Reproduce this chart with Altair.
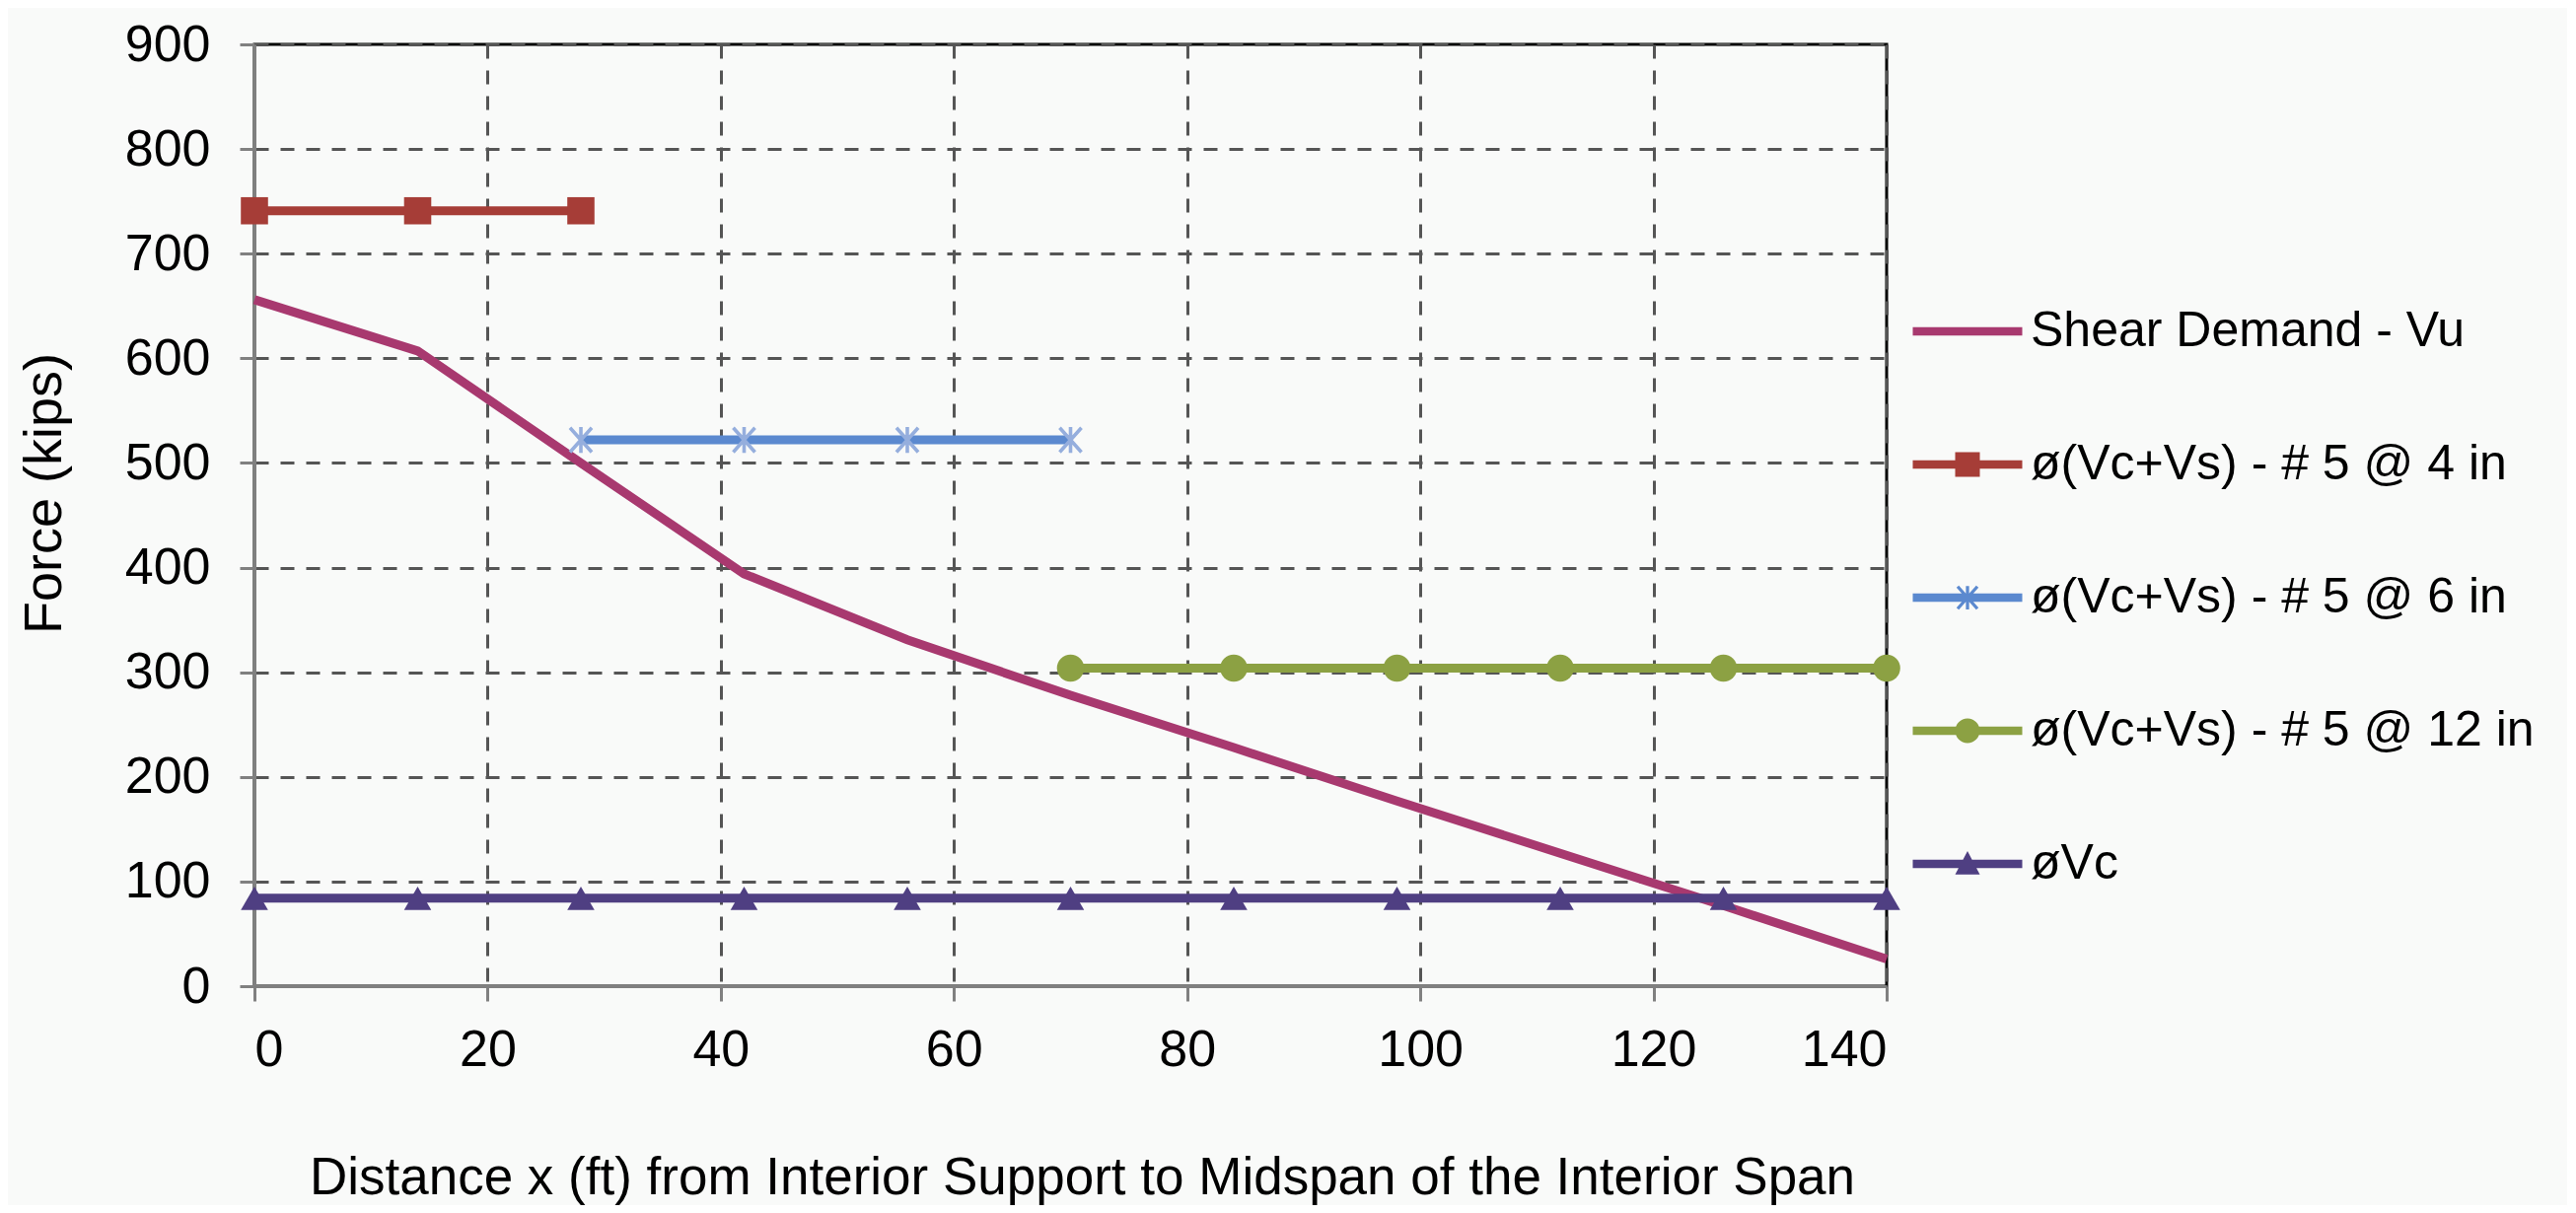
import math
import altair as alt
import pandas as pd

# ---------------- data ----------------
series_names = [
    "Shear Demand - Vu",
    "ø(Vc+Vs) - # 5 @ 4 in",
    "ø(Vc+Vs) - # 5 @ 6 in",
    "ø(Vc+Vs) - # 5 @ 12 in",
    "øVc",
]

shear_x = [0, 14, 28, 42, 56, 70, 84, 98, 112, 126, 140]
shear_y = [656, 607, 500, 394, 331, 278, 228, 177, 127, 77, 26]

s4_x = [0, 14, 28]
s4_y = [741, 741, 741]

s6_x = [28, 42, 56, 70]
s6_y = [522, 522, 522, 522]

s12_x = [70, 84, 98, 112, 126, 140]
s12_y = [304, 304, 304, 304, 304, 304]

vc_x = [0, 14, 28, 42, 56, 70, 84, 98, 112, 126, 140]
vc_y = [84, 84, 84, 84, 84, 84, 84, 84, 84, 84, 84]

x_ticks = [0, 20, 40, 60, 80, 100, 120, 140]
y_ticks = [0, 100, 200, 300, 400, 500, 600, 700, 800, 900]

line_colors = ["#A8396F", "#A63D37", "#5B89CF", "#8CA143", "#4F3F82"]
marker_fills = ["#A63D37", "#95AEDD", "#8CA143", "#4F3F82"]

# ---------------- tables ----------------
all_series = [
    (series_names[0], shear_x, shear_y),
    (series_names[1], s4_x, s4_y),
    (series_names[2], s6_x, s6_y),
    (series_names[3], s12_x, s12_y),
    (series_names[4], vc_x, vc_y),
]
line_df = pd.DataFrame(
    [{"series": n, "x": x, "y": y, "order": i} for n, xs, ys in all_series for i, (x, y) in enumerate(zip(xs, ys))]
)
point_df = line_df[line_df["series"] != series_names[0]]
legend_df = line_df[line_df["order"] == 0]

# ---------------- symbol paths (styles) ----------------
def poly(pts):
    n = len(pts)
    area = sum(pts[i][0] * pts[(i + 1) % n][1] - pts[(i + 1) % n][0] * pts[i][1] for i in range(n))
    if area < 0:
        pts = pts[::-1]
    return "M" + "L".join(f"{x:.3f},{y:.3f}" for x, y in pts) + "Z"

def bar(x1, y1, x2, y2, w):
    dx, dy = x2 - x1, y2 - y1
    L = math.hypot(dx, dy)
    nx, ny = -dy / L * w, dx / L * w
    return poly([(x1 + nx, y1 + ny), (x2 + nx, y2 + ny), (x2 - nx, y2 - ny), (x1 - nx, y1 - ny)])

asterisk = (bar(0, -0.95, 0, 0.95, 0.13)
            + bar(-0.8, -0.9, 0.8, 0.9, 0.13)
            + bar(-0.8, 0.9, 0.8, -0.9, 0.13))

shape_range = ["square", asterisk, "circle", "triangle-up"]

leg_line = poly([(-4.44, -0.34), (4.44, -0.34), (4.44, 0.34), (-4.44, 0.34)])
leg_square = poly([(-1, -1), (1, -1), (1, 1), (-1, 1)])
leg_circle = "M1,0A1,1 0 1,1 -1,0A1,1 0 1,1 1,0Z"
leg_tri = poly([(0, -1.05), (1, 0.85), (-1, 0.85)])
legend_paths = [leg_line, leg_line + leg_square, leg_line + asterisk, leg_line + leg_circle, leg_line + leg_tri]

FONT = "Liberation Sans"

legend = alt.Legend(
    title=None,
    orient="none",
    legendX=1682,
    legendY=266,
    padding=0,
    labelFontSize=50,
    labelFont=FONT,
    labelColor="black",
    labelLimit=0,
    symbolSize=625,
    symbolStrokeWidth=0,
    symbolOpacity=1,
    symbolOffset=30,
    labelOffset=39,
    rowPadding=85,
)

x_enc = alt.X(
    "x:Q",
    scale=alt.Scale(domain=[0, 140], nice=False, zero=False),
    axis=alt.Axis(
        values=x_ticks,
        title="Distance x (ft) from Interior Support to Midspan of the Interior Span",
        titleX=839,
        titleY=210,
        titleBaseline="alphabetic",
        titleAlign="center",
        titleFontSize=53,
        labelPadding=24,
        gridDash=[14, 12],
    ),
)
y_enc = alt.Y(
    "y:Q",
    scale=alt.Scale(domain=[0, 900], nice=False),
    axis=alt.Axis(
        values=y_ticks,
        title="Force (kips)",
        titleAngle=270,
        titleX=-213,
        titleY=455,
        titleAlign="center",
        titleBaseline="middle",
        titleFontSize=54,
        labelPadding=30,
        gridDash=[14, 12],
    ),
)

lines = alt.Chart(line_df).mark_line(strokeWidth=9).encode(
    x=x_enc,
    y=y_enc,
    color=alt.Color("series:N", scale=alt.Scale(domain=series_names, range=line_colors), legend=None),
    strokeWidth=alt.StrokeWidth(
        "series:N",
        scale=alt.Scale(domain=series_names, range=[10, 9, 9, 9, 9]),
        legend=None,
    ),
    order="order:Q",
)

points = alt.Chart(point_df).mark_point(filled=True, size=760, opacity=1, strokeWidth=0).encode(
    x=x_enc,
    y=y_enc,
    shape=alt.Shape("series:N", scale=alt.Scale(domain=series_names[1:], range=shape_range), legend=None),
    fill=alt.Fill("series:N", scale=alt.Scale(domain=series_names[1:], range=marker_fills), legend=None),
)

legend_layer = alt.Chart(legend_df).mark_point(filled=True, size=625, opacity=0, strokeWidth=0).encode(
    x=x_enc,
    y=y_enc,
    shape=alt.Shape("series:N", scale=alt.Scale(domain=series_names, range=legend_paths), legend=legend),
    fill=alt.Fill("series:N", scale=alt.Scale(domain=series_names, range=line_colors), legend=legend),
)

chart = (
    alt.layer(lines, points, legend_layer)
    .resolve_scale(shape="independent", fill="independent")
    .properties(
        width=1655,
        height=955,
        autosize=alt.AutoSizeParams(type="none"),
        padding={"left": 250, "top": 37, "right": 690, "bottom": 222},
        background="#F9FAF9",
    )
    .configure(font=FONT)
    .configure_view(stroke="black", strokeWidth=3, fill=None)
    .configure_axis(
        labelFont=FONT,
        titleFont=FONT,
        labelFontSize=52,
        titleFontSize=52,
        labelColor="black",
        titleColor="black",
        titleFontWeight="normal",
        grid=True,
        gridColor="#555555",
        gridWidth=3,
        domainColor="#808080",
        domainWidth=3,
        tickColor="#808080",
        tickWidth=3,
        tickSize=15,
    )
)

chart.save("out.html", embed_options={"renderer": "svg", "actions": False})
